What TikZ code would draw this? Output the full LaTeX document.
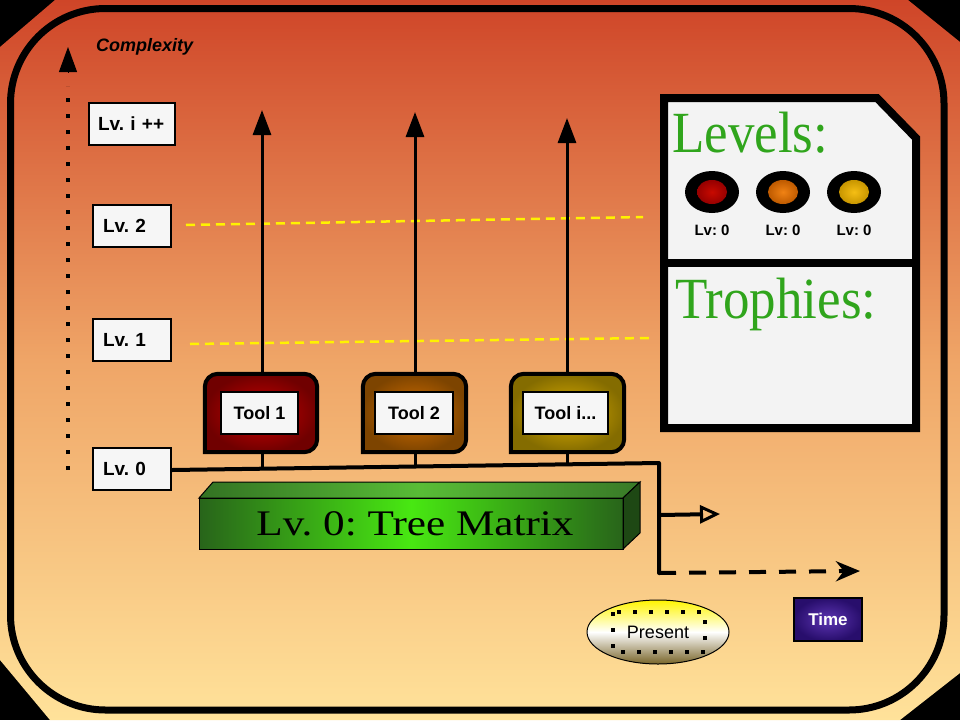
\documentclass[tikz,border=0pt]{standalone}
\usepackage{fontspec}
\setmainfont{Liberation Serif}
\setsansfont{Liberation Sans}
\usetikzlibrary{arrows.meta,shapes.geometric}
\definecolor{bgtop}{RGB}{207,69,40}
\definecolor{bgmid}{RGB}{239,165,103}
\definecolor{bgbot}{RGB}{255,226,154}
\definecolor{boxwhite}{RGB}{246,246,246}
\definecolor{dashyellow}{RGB}{255,242,0}
\definecolor{gdark}{RGB}{40,100,26}
\definecolor{glight}{RGB}{72,232,18}
\definecolor{gtop}{RGB}{95,170,70}
\definecolor{gside}{RGB}{30,72,20}
\definecolor{legendgreen}{RGB}{48,165,28}
\definecolor{purpin}{RGB}{92,52,178}
\definecolor{purpout}{RGB}{40,14,108}
\definecolor{olivebot}{RGB}{120,100,40}
\definecolor{presyellow}{RGB}{255,245,0}
\frenchspacing
\begin{document}
\begin{tikzpicture}[x=1pt,y=-1pt,
  lvbox/.style={draw=black, line width=2, fill=boxwhite, minimum height=42,
    inner xsep=10, align=left, font=\sffamily\bfseries\fontsize{19}{21}\selectfont},
  toolin/.style={draw=black, line width=2, fill=boxwhite, minimum height=42,
    font=\sffamily\bfseries\fontsize{18}{20}\selectfont},
  toolout/.style={draw=none, minimum height=78, inner sep=0},
  thick4/.style={line width=4, line cap=round, line join=round},
  uparrow/.style={line width=3, -{Triangle[length=25,width=18]}},
  dotline/.style={line width=4, dash pattern=on 4 off 12},
  ydash/.style={line width=2.5, dashyellow, dash pattern=on 9 off 6},
  lightout/.style={ellipse, fill=black, minimum width=54, minimum height=42, inner sep=0},
  lightin/.style={ellipse, minimum width=30, minimum height=24, inner sep=0},
  lvlabel/.style={font=\sffamily\bfseries\fontsize{15}{17}\selectfont},
  bigtitle/.style={anchor=base west, text=legendgreen, inner sep=0,
    font=\rmfamily\fontsize{53}{60}\selectfont}
]
\useasboundingbox (0,0) rectangle (960,720);
% background
\fill[black] (0,0) rectangle (960,720);
\shade[top color=bgtop, bottom color=bgbot, middle color=bgmid]
  (55,0) -- (908,0) -- (960,42) -- (960,673) -- (900,720) -- (50,720) -- (0,660) -- (0,47) -- cycle;
\draw[line width=7, rounded corners=95] (10.5,8.5) rectangle (944,710);

% complexity axis
\coordinate (cbot) at (68,470);
\coordinate (cdots) at (68,86);
\coordinate (cbase) at (68,72);
\coordinate (ctop) at (68,47);
\draw[dotline] (cbot) -- (cdots);
\draw[line width=1, -{Triangle[length=25,width=18]}] (cbase) -- (ctop);
\node[font=\sffamily\bfseries\itshape\fontsize{18}{20}\selectfont, anchor=west, inner sep=0] (cplx) at (96,47) {Complexity};

% level boxes
\node[lvbox, text width=68, inner xsep=9] (lvi) at (132,124) {Lv. i ++};
\node[lvbox, text width=58] (lv2) at (132,226) {Lv. 2};
\node[lvbox, text width=58] (lv1) at (132,340) {Lv. 1};
\node[lvbox, text width=58] (lv0) at (132,469) {Lv. 0};

% yellow dashed lines
\coordinate (y2a) at (186,225);
\coordinate (y2b) at (643,217);
\coordinate (y1a) at (190,344);
\coordinate (y1b) at (650,338);
\draw[ydash] (y2a) -- (y2b);
\draw[ydash] (y1a) -- (y1b);

% tools
\node[toolout, minimum width=112] (t1) at (261,413) {};
\node[toolout, minimum width=103] (t2) at (414.5,413) {};
\node[toolout, minimum width=113] (t3) at (567.5,413) {};
\shade[inner color={rgb,255:red,205;green,0;blue,0}, outer color={rgb,255:red,112;green,0;blue,0}, draw=black, line width=4]
  (t1.south west) [rounded corners=13] -- (t1.north west) -- (t1.north east) -- (t1.south east) [sharp corners] -- cycle;
\shade[inner color={rgb,255:red,215;green,112;blue,0}, outer color={rgb,255:red,125;green,68;blue,0}, draw=black, line width=4]
  (t2.south west) [rounded corners=13] -- (t2.north west) -- (t2.north east) -- (t2.south east) [sharp corners] -- cycle;
\shade[inner color={rgb,255:red,222;green,175;blue,0}, outer color={rgb,255:red,132;green,108;blue,0}, draw=black, line width=4]
  (t3.south west) [rounded corners=13] -- (t3.north west) -- (t3.north east) -- (t3.south east) [sharp corners] -- cycle;
\node[toolin, minimum width=77] (ti1) at (259.5,413) {Tool 1};
\node[toolin, minimum width=78] (ti2) at (414,413) {Tool 2};
\node[toolin, minimum width=85] (ti3) at (565.5,413) {Tool i...};

% up arrows
\coordinate (a1) at (262,110);
\coordinate (a2) at (415,112);
\coordinate (a3) at (567,118);
\draw[uparrow] (t1.north -| a1) -- (a1);
\draw[uparrow] (t2.north -| a2) -- (a2);
\draw[uparrow] (t3.north -| a3) -- (a3);

% baseline and time arrows
\coordinate (hend) at (659,463);
\coordinate (s1) at (262,468.5);
\coordinate (s2) at (415,466.3);
\coordinate (s3) at (567,464.3);
\coordinate (br) at (659,515);
\coordinate (brtip) at (720,514);
\coordinate (bot) at (659,573);
\coordinate (bottip) at (860,571);
\draw[thick4] (lv0.east |- 0,470) -- (hend) -- (bot);
\draw[line width=3] (t1.south -| s1) -- (s1);
\draw[line width=3] (t2.south -| s2) -- (s2);
\draw[line width=3] (t3.south -| s3) -- (s3);
\draw[line width=4, -{Triangle[open,length=20,width=18,line width=3]}] (br) -- (brtip);
\draw[line width=4, dash pattern=on 17 off 13, -{Stealth[length=24,width=20]}] (bot) -- (bottip);

% tree matrix bar
\shade[left color=gdark, right color=gdark, middle color=glight] (199,498) rectangle (623,549);
\shade[left color=gdark!80!gtop, right color=gdark!70!gtop, middle color=gtop!70!glight, draw=black, line width=1]
  (199,498) -- (213,482) -- (640,482) -- (623,498) -- cycle;
\fill[gside, draw=black, line width=1] (623,498) -- (640,482) -- (640,533) -- (623,549) -- cycle;
\node[draw=black, line width=1, minimum width=424, minimum height=51, inner sep=0] (tm) at (411,523.5)
  {\hspace*{8pt}\scalebox{1.2}[1]{\fontsize{36}{40}\selectfont Lv. 0: Tree Matrix}};

% legend panel
\draw[line width=8, fill={rgb,255:red,243;green,243;blue,243}, line join=miter]
  (664,98) -- (877,98) -- (916,138) -- (916,428) -- (664,428) -- cycle;
\coordinate (dl) at (664,263);
\coordinate (dr) at (916,263);
\draw[line width=8] (dl) -- (dr);
\node[bigtitle] (levels) at (672,152) {\scalebox{1}[1.1]{Levels:}};
\node[bigtitle] (trophies) at (675,318) {\scalebox{1}[1.1]{Trophies:}};
\node[lightout] (l1) at (712,192) {};
\node[lightout] (l2) at (783,192) {};
\node[lightout] (l3) at (854,192) {};
\node[lightin, inner color={rgb,255:red,200;green,10;blue,0}, outer color={rgb,255:red,150;green,0;blue,0}] (li1) at (l1) {};
\node[lightin, inner color={rgb,255:red,240;green,130;blue,20}, outer color={rgb,255:red,190;green,90;blue,0}] (li2) at (l2) {};
\node[lightin, inner color={rgb,255:red,245;green,190;blue,20}, outer color={rgb,255:red,200;green,150;blue,0}] (li3) at (l3) {};
\node[lvlabel] (lb1) at (712,230) {Lv: 0};
\node[lvlabel] (lb2) at (783,230) {Lv: 0};
\node[lvlabel] (lb3) at (854,230) {Lv: 0};

% present & time
\node[ellipse, draw=black, line width=1, minimum width=142, minimum height=64, inner sep=0,
  top color=presyellow, bottom color=olivebot, middle color=white,
  font=\sffamily\fontsize{18}{20}\selectfont] (present) at (658,632) {Present};
\draw[dotline, line width=4] (613,612) rectangle (705,652);
\node[draw=black, line width=1.5, minimum width=68, minimum height=43, inner sep=0,
  inner color=purpin, outer color=purpout, text=white,
  font=\sffamily\bfseries\fontsize{17}{20}\selectfont] (time) at (828,619.5) {Time};
\end{tikzpicture}
\end{document}
